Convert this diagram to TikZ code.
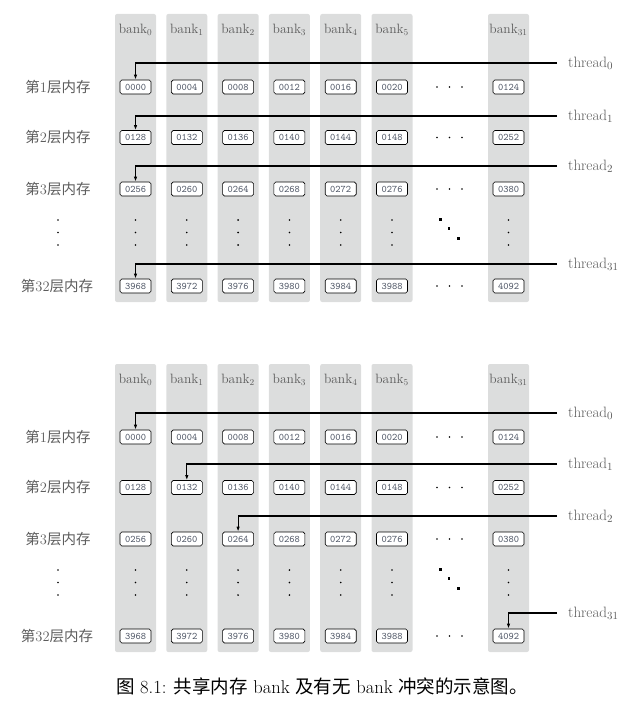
\documentclass[tikz,border=0pt]{standalone}
\usepackage{fontspec}
\usepackage{tikz}
\usetikzlibrary{arrows.meta,positioning}
\newfontfamily\cjk{Noto Sans CJK SC}
\definecolor{bankbg}{HTML}{DCDDDD}
\definecolor{labgray}{HTML}{5C5C5C}
\definecolor{celltxt}{HTML}{4A5262}
\newcommand\padnum[1]{\ifnum#1<1000 0\fi\ifnum#1<100 0\fi\ifnum#1<10 0\fi#1}
\tikzset{
  bankcol/.style={fill=bankbg, rounded corners=2pt},
  banklbl/.style={text=labgray, font=\fontsize{13.5}{13.5}\selectfont},
  cell/.style={draw, line width=0.6pt, rounded corners=1.8pt, fill=white,
    minimum width=31pt, minimum height=14pt, inner sep=0pt,
    text=celltxt, font=\fontsize{10}{10}\selectfont\ttfamily},
  rowlbl/.style={text=labgray, font=\fontsize{14.5}{14.5}\selectfont},
  thr/.style={text=labgray, font=\fontsize{15}{15}\selectfont, inner sep=0pt, anchor=west},
  conn/.style={line width=1.1pt, -{Latex[length=5pt,width=3.4pt]}},
}

\begin{document}
\begin{tikzpicture}[x=1pt, y=-1pt]
  \useasboundingbox (0,0) rectangle (644,722);

  \foreach \dy/\d in {0/a, 350/b} {
    \foreach \x/\k in {135.5/0, 186.8/1, 238.1/2, 289.4/3, 340.7/4, 392/5, 508.5/31} {
      \fill[bankcol] (\x-20.5,14+\dy) rectangle (\x+20.5,302+\dy);
      \node[banklbl] (\d bank\k) at (\x,30+\dy) {bank$_{\k}$};
      \foreach \r/\y in {1/87, 2/137.5, 3/189, 32/286} {
        \pgfmathtruncatemacro\v{(\r-1)*128+4*\k}
        \node[cell] (\d\r-\k) at (\x,\y+\dy) {\padnum{\v}};
      }
      \foreach \y in {220, 232.5, 245} \fill (\x,\y+\dy) circle (0.9pt);
    }

    % row labels
    \node[rowlbl] (\d row1) at (58,87+\dy) {{\cjk 第}1{\cjk 层内存}};
    \node[rowlbl] (\d row2) at (58,137.5+\dy) {{\cjk 第}2{\cjk 层内存}};
    \node[rowlbl] (\d row3) at (58,189+\dy) {{\cjk 第}3{\cjk 层内存}};
    \node[rowlbl] (\d row32) at (57,286+\dy) {{\cjk 第}32{\cjk 层内存}};
    \foreach \y in {220, 232.5, 245} \fill (58,\y+\dy) circle (0.9pt);

    % skipped banks
    \foreach \y in {87, 137.5, 189, 286}
      \foreach \x in {437, 449.5, 462} \fill (\x,\y+\dy) circle (0.9pt);
    \fill (440-1.5,219+\dy-1.5) rectangle ++(3,3);
    \fill (449-1.2,228.5+\dy-1.2) rectangle ++(2.4,2.4);
    \fill (458-1.5,238+\dy-1.5) rectangle ++(3,3);
  }

  % no conflict
  \coordinate (at0) at (557,63);
  \coordinate (at1) at (557,116);
  \coordinate (at2) at (557,166);
  \coordinate (at31) at (557,264);
  \node[thr, right=11pt of at0] (athr0) {thread$_0$};
  \node[thr, right=11pt of at1] (athr1) {thread$_1$};
  \node[thr, right=11pt of at2] (athr2) {thread$_2$};
  \node[thr, right=11pt of at31] (athr31) {thread$_{31}$};
  \draw[conn] (at0) -| (a1-0.north);
  \draw[conn] (at1) -| (a2-0.north);
  \draw[conn] (at2) -| (a3-0.north);
  \draw[conn] (at31) -| (a32-0.north);

  % conflict
  \coordinate (bt0) at (557,413);
  \coordinate (bt1) at (557,464);
  \coordinate (bt2) at (557,516);
  \coordinate (bt31) at (557,613);
  \node[thr, right=11pt of bt0] (bthr0) {thread$_0$};
  \node[thr, right=11pt of bt1] (bthr1) {thread$_1$};
  \node[thr, right=11pt of bt2] (bthr2) {thread$_2$};
  \node[thr, right=11pt of bt31] (bthr31) {thread$_{31}$};
  \draw[conn] (bt0) -| (b1-0.north);
  \draw[conn] (bt1) -| (b2-1.north);
  \draw[conn] (bt2) -| (b3-2.north);
  \draw[conn] (bt31) -| (b32-31.north);

  \node[font=\fontsize{18.5}{18.5}\selectfont] (caption) at (322,686)
    {{\cjk 图} 8.1: {\cjk 共享内存} bank {\cjk 及有无} bank {\cjk 冲突的示意图。}};
\end{tikzpicture}
\end{document}
